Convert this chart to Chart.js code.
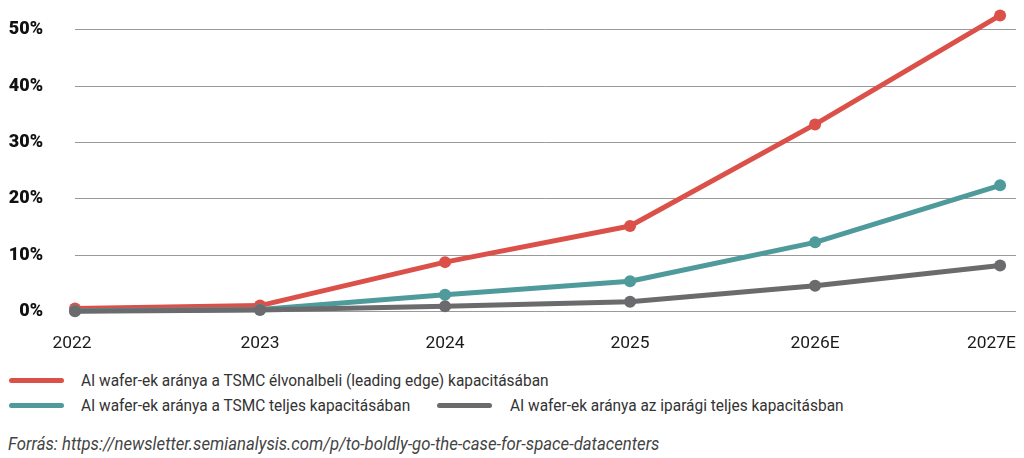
<!DOCTYPE html>
<html>
<head>
<meta charset="utf-8">
<script src="https://cdn.jsdelivr.net/npm/chart.js@4/dist/chart.umd.min.js"></script>
<style>
  html, body { margin: 0; padding: 0; background: #fff; }
  body { width: 1024px; height: 458px; position: relative; overflow: hidden; font-family: Roboto, "Noto Sans", sans-serif; }
  #wrap { position: absolute; left: 0; top: 0; width: 1024px; height: 360px; }
  .sw { position: absolute; width: 55px; height: 5px; border-radius: 3px; }
  .lt { position: absolute; font-size: 16.9px; line-height: 16.9px; color: #333; white-space: nowrap; transform: scaleX(0.914); transform-origin: 0 0; }
  #src { position: absolute; left: 8px; top: 434.5px; font-size: 18.7px; line-height: 18.7px; font-style: italic; color: #444; white-space: nowrap; transform: scaleX(0.894); transform-origin: 0 0; }
</style>
</head>
<body>
<div id="wrap"><canvas id="c" width="1024" height="360"></canvas></div>
<div id="legend"></div>
<div id="src">Forrás: https://newsletter.semianalysis.com/p/to-boldly-go-the-case-for-space-datacenters</div>
<script>
const categories = ["2022", "2023", "2024", "2025", "2026E", "2027E"];
const leadingEdge = [0.6, 1.1, 8.8, 15.2, 33.2, 52.5];
const tsmcTotal = [0.2, 0.4, 3.0, 5.4, 12.3, 22.4];
const industryTotal = [0.1, 0.3, 1.0, 1.8, 4.6, 8.2];
const yTicks = [0, 10, 20, 30, 40, 50];
const seriesNames = [
  "AI wafer-ek aránya a TSMC élvonalbeli (leading edge) kapacitásában",
  "AI wafer-ek aránya a TSMC teljes kapacitásában",
  "AI wafer-ek aránya az iparági teljes kapacitásban"
];
const colors = ["#db5049", "#4f9a9b", "#6b6b6d"];

function pts(arr) { return arr.map((v, i) => ({ x: i, y: v })); }
function ds(label, data, color, order) {
  return {
    label, data: pts(data), borderColor: color, backgroundColor: color,
    borderWidth: 5, pointRadius: 6, pointHoverRadius: 6, pointBorderWidth: 0,
    pointBackgroundColor: color, tension: 0, order, borderCapStyle: 'round', borderJoinStyle: 'round'
  };
}
function zeroPad(s) { s.paddingTop = 0; s.paddingBottom = 0; s.paddingLeft = 0; s.paddingRight = 0; }

// keep the last x label inside the plot edge (right-aligned), like the reference
const edgeLabels = {
  id: 'edgeLabels',
  beforeDraw(chart) {
    const sx = chart.scales.x;
    const items = sx.getLabelItems(chart.chartArea);
    if (!items.length) return;
    const last = items[items.length - 1];
    last.options.textAlign = 'right';
    last.options.translation = [chart.chartArea.right, last.options.translation[1]];
    const first = items[0];
    first.options.translation = [first.options.translation[0] - 3, first.options.translation[1]];
  }
};

new Chart(document.getElementById('c'), {
  type: 'line',
  data: {
    datasets: [
      ds(seriesNames[0], leadingEdge, colors[0], 3),
      ds(seriesNames[1], tsmcTotal, colors[1], 2),
      ds(seriesNames[2], industryTotal, colors[2], 1)
    ]
  },
  plugins: [edgeLabels],
  options: {
    responsive: false,
    animation: false,
    clip: false,
    layout: { padding: { left: 0, right: 8, top: 7, bottom: 0 } },
    plugins: { legend: { display: false }, tooltip: { enabled: false } },
    scales: {
      x: {
        type: 'linear', min: 0, max: 5.086,
        grid: { display: false }, border: { display: false },
        afterBuildTicks: (axis) => { axis.ticks = categories.map((c, i) => ({ value: i })); },
        afterFit: (s) => { s.height = 48.2; zeroPad(s); },
        ticks: {
          padding: 13, maxRotation: 0, minRotation: 0, autoSkip: false,
          font: { family: 'Roboto', size: 17.4 }, color: '#1a1a1a',
          callback: (v) => categories[v] ?? ''
        }
      },
      y: {
        min: 0, max: 54,
        afterBuildTicks: (axis) => { axis.ticks = yTicks.map(v => ({ value: v })); },
        afterFit: (s) => { s.width = 75; zeroPad(s); },
        grid: { color: '#9a9a9a', lineWidth: 1, drawTicks: false },
        border: { display: false },
        ticks: {
          padding: 32,
          font: { family: 'Roboto', size: 18, weight: 900 }, color: '#111',
          callback: (v) => v + '%'
        }
      }
    }
  }
});

const legendItems = [
  { i: 0, swL: 9, textL: 81, cy: 380.5 },
  { i: 1, swL: 9, textL: 81, cy: 405 },
  { i: 2, swL: 437, textL: 510, cy: 405 }
];
const lg = document.getElementById('legend');
legendItems.forEach(it => {
  const sw = document.createElement('div');
  sw.className = 'sw';
  sw.style.left = it.swL + 'px';
  sw.style.top = (it.cy - 2.5) + 'px';
  sw.style.background = colors[it.i];
  lg.appendChild(sw);
  const t = document.createElement('div');
  t.className = 'lt';
  t.style.left = it.textL + 'px';
  t.style.top = (it.cy - 8.2) + 'px';
  t.textContent = seriesNames[it.i];
  lg.appendChild(t);
});
</script>
</body>
</html>
